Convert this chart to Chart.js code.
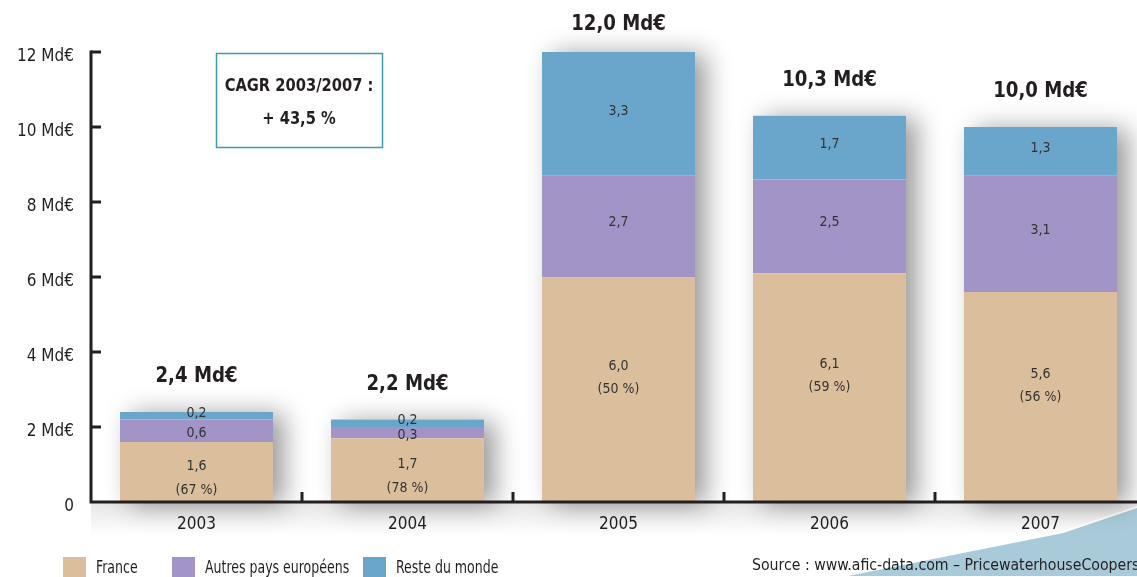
<!DOCTYPE html>
<html>
<head>
<meta charset="utf-8">
<script src="https://cdn.jsdelivr.net/npm/chart.js@4.4.0/dist/chart.umd.min.js"></script>
<style>
  html, body { margin: 0; padding: 0; background: #fff; overflow: hidden; }
  #wrap { width: 1137px; height: 577px; overflow: hidden; }
</style>
</head>
<body>
<div id="wrap"><canvas id="levees" width="1146" height="577"></canvas></div>
<script>
// Montants levés (Md€) par origine des souscripteurs
const years = ['2003', '2004', '2005', '2006', '2007'];
const france = [1.6, 1.7, 6.0, 6.1, 5.6];
const autres = [0.6, 0.3, 2.7, 2.5, 3.1];
const reste = [0.2, 0.2, 3.3, 1.7, 1.3];
const totals = [2.4, 2.2, 12.0, 10.3, 10.0];
const francePct = [67, 78, 50, 59, 56];
const yTicks = [0, 2, 4, 6, 8, 10, 12];

const FONT = "'Liberation Sans Narrow', 'DejaVu Sans Condensed', 'Liberation Sans', sans-serif";
const INK = '#231f20';

const fmt = v => v.toFixed(1).replace('.', ',');

// narrow text: the source uses a condensed face
function narrowText(c, text, x, y, sx) {
    c.save();
    c.translate(x, y);
    c.scale(sx, 1);
    c.fillText(text, 0, 0);
    c.restore();
}

const decor = {
    id: 'decor',
    beforeDraw(chart) {
        const c = chart.ctx;
        const area = chart.chartArea;
        c.save();
        c.fillStyle = '#fff';
        c.fillRect(0, 0, chart.width, chart.height);
        // soft shade below the x axis
        const g = c.createLinearGradient(0, area.bottom, 0, area.bottom + 34);
        g.addColorStop(0, 'rgba(0,0,0,0.10)');
        g.addColorStop(1, 'rgba(0,0,0,0)');
        c.fillStyle = g;
        c.fillRect(area.left, area.bottom, area.right - area.left, 34);
        // blue corner shape
        c.beginPath();
        c.moveTo(838, 577);
        c.lineTo(1063, 532);
        c.lineTo(1146, 504);
        c.lineTo(1146, 577);
        c.closePath();
        c.fillStyle = '#a9cbd9';
        c.fill();
        c.strokeStyle = '#ffffff';
        c.lineWidth = 2;
        c.stroke();
        c.restore();
    },
    beforeDatasetsDraw(chart) {
        // drop shadow behind each stacked bar
        const c = chart.ctx;
        const top = chart.getDatasetMeta(2).data;
        const base = chart.getDatasetMeta(0).data;
        c.save();
        c.shadowColor = 'rgba(0,0,0,0.4)';
        c.shadowBlur = 24;
        c.shadowOffsetX = 11;
        c.shadowOffsetY = 2;
        c.fillStyle = '#fff';
        top.forEach((bar, i) => {
            const b = bar.getProps(['x', 'y', 'width'], true);
            const bottom = base[i].getProps(['base'], true).base;
            c.fillRect(b.x - b.width / 2, b.y, b.width, bottom - b.y);
        });
        c.restore();
    },
    afterDatasetsDraw(chart) {
        const c = chart.ctx;
        const area = chart.chartArea;
        const x = chart.scales.x, y = chart.scales.y;
        c.save();
        c.strokeStyle = INK;
        c.lineWidth = 3;
        c.beginPath();
        c.moveTo(area.left, area.top - 1.5);
        c.lineTo(area.left, area.bottom);
        c.lineTo(area.right, area.bottom);
        c.stroke();
        // y ticks pointing inward
        yTicks.forEach(v => {
            if (v === 0) return;
            const py = y.getPixelForValue(v);
            c.beginPath();
            c.moveTo(area.left, py);
            c.lineTo(area.left + 10, py);
            c.stroke();
        });
        // x ticks at category boundaries, pointing up
        for (let i = 0; i < years.length - 1; i++) {
            const px = (x.getPixelForValue(i) + x.getPixelForValue(i + 1)) / 2;
            c.beginPath();
            c.moveTo(px, area.bottom);
            c.lineTo(px, area.bottom - 10);
            c.stroke();
        }
        c.restore();
    },
    afterDraw(chart) {
        const c = chart.ctx;
        const metaF = chart.getDatasetMeta(0).data;
        const metaA = chart.getDatasetMeta(1).data;
        const metaR = chart.getDatasetMeta(2).data;
        c.save();
        c.textAlign = 'center';
        c.textBaseline = 'middle';
        c.fillStyle = '#333';
        c.font = '14px ' + FONT;
        years.forEach((yr, i) => {
            const f = metaF[i].getProps(['x', 'y', 'base'], true);
            const hF = f.base - f.y;
            const cF = (f.y + f.base) / 2;
            if (hF > 100) {
                c.fillText(fmt(france[i]), f.x, cF - 23);
                c.fillText('(' + francePct[i] + ' %)', f.x, cF);
            } else {
                c.fillText(fmt(france[i]), f.x, cF - 6);
                c.fillText('(' + francePct[i] + ' %)', f.x, cF + 18);
            }
            const a = metaA[i].getProps(['x', 'y', 'base'], true);
            const hA = a.base - a.y;
            c.fillText(fmt(autres[i]), a.x, hA > 40 ? (a.y + a.base) / 2 - 4 : (a.y + a.base) / 2 + 3);
            const r = metaR[i].getProps(['x', 'y', 'base'], true);
            const hR = r.base - r.y;
            c.fillText(fmt(reste[i]), r.x, hR > 20 ? (r.y + r.base) / 2 - 3 : r.y + 1);
        });
        // totals above bars
        c.fillStyle = INK;
        c.font = 'bold 21px ' + FONT;
        years.forEach((yr, i) => {
            const r = metaR[i].getProps(['x', 'y'], true);
            narrowText(c, fmt(totals[i]) + ' Md\u20ac', r.x, Math.max(25, r.y - 35), 0.96);
        });
        // CAGR box
        c.strokeStyle = '#3c9caa';
        c.lineWidth = 1.5;
        c.strokeRect(216.5, 53.5, 166, 94);
        c.font = 'bold 17px ' + FONT;
        narrowText(c, 'CAGR 2003/2007 :', 299, 87, 0.96);
        narrowText(c, '+ 43,5 %', 299, 120, 0.96);
        // legend
        const legend = [
            ['France', '#dbbe9c', 63],
            ['Autres pays européens', '#a294c6', 172],
            ['Reste du monde', '#6aa6cb', 363]
        ];
        c.textAlign = 'left';
        c.font = '17px ' + FONT;
        legend.forEach(([label, col, lx]) => {
            c.fillStyle = col;
            c.fillRect(lx, 557, 23, 20);
            c.fillStyle = INK;
            narrowText(c, label, lx + 33, 569, 0.82);
        });
        c.font = '16px ' + FONT;
        narrowText(c, 'Source : www.afic-data.com \u2013 PricewaterhouseCoopers', 752, 566, 0.98);
        c.restore();
    }
};

const ctx = document.getElementById('levees').getContext('2d');
const chart = new Chart(ctx, {
    type: 'bar',
    data: {
        labels: years,
        datasets: [
            { label: 'France', data: france, backgroundColor: '#dbbe9c' },
            { label: 'Autres pays européens', data: autres, backgroundColor: '#a294c6' },
            { label: 'Reste du monde', data: reste, backgroundColor: '#6aa6cb' }
        ]
    },
    options: {
        responsive: false,
        animation: false,
        devicePixelRatio: 1,
        layout: { padding: { top: 52, left: 0, right: 0, bottom: 0 } },
        datasets: { bar: { barPercentage: 0.725, categoryPercentage: 1, borderWidth: 0 } },
        plugins: { legend: { display: false }, tooltip: { enabled: false } },
        scales: {
            x: {
                stacked: true,
                grid: { display: false, drawTicks: false },
                border: { display: false },
                ticks: { color: INK, font: { family: FONT, size: 17 }, padding: 12 },
                afterFit: s => { s.height = 75; }
            },
            y: {
                stacked: true,
                min: 0,
                max: 12,
                grid: { display: false, drawTicks: false },
                border: { display: false },
                afterBuildTicks: s => { s.ticks = yTicks.map(v => ({ value: v })); },
                ticks: {
                    color: INK,
                    font: { family: FONT, size: 17 },
                    padding: 17,
                    labelOffset: 5,
                    callback: v => v === 0 ? '0' : v + ' Md\u20ac'
                },
                afterFit: s => { s.width = 91; }
            }
        }
    },
    plugins: [decor]
});
</script>
</body>
</html>
